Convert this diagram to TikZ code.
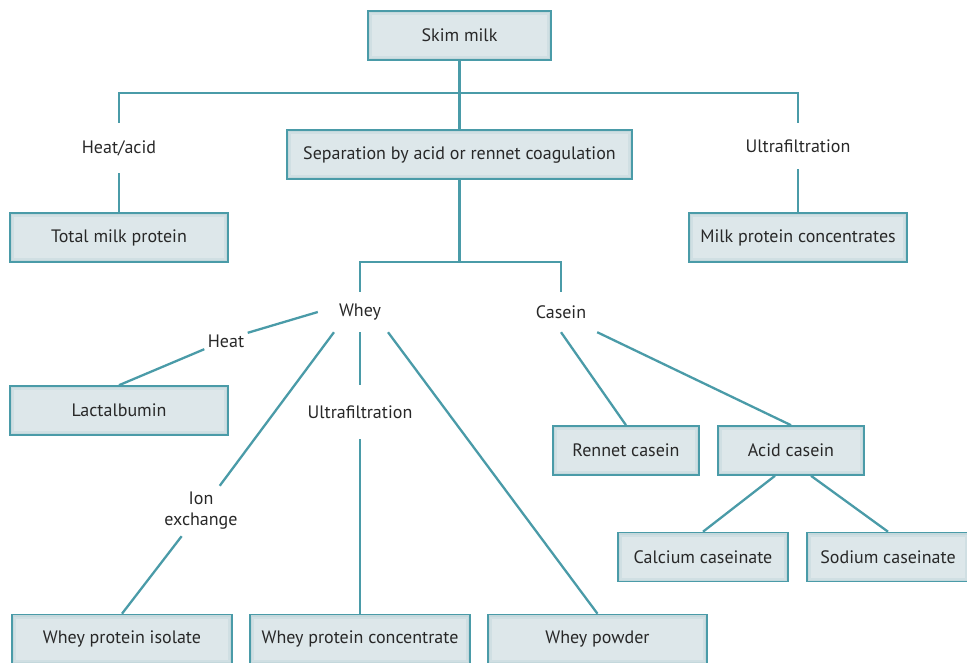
\documentclass[tikz,border=0pt]{standalone}
\usepackage{fontspec}
\setmainfont{PT Sans}
\usetikzlibrary{positioning}
\definecolor{milkline}{RGB}{74,155,168}
\definecolor{boxfill}{RGB}{221,231,234}
\definecolor{boxglow}{RGB}{178,206,211}
\definecolor{textgray}{RGB}{40,40,40}
\tikzset{
  prodbox/.style={draw=milkline,line width=1.6pt,fill=boxfill,minimum height=49pt,
    inner sep=0pt,font=\fontsize{18}{21}\selectfont,text=textgray,
    path picture={
      \draw[boxglow,line width=8pt,opacity=0.3]
        (path picture bounding box.south west) rectangle (path picture bounding box.north east);
      \draw[boxglow,line width=4pt,opacity=0.4]
        (path picture bounding box.south west) rectangle (path picture bounding box.north east);}},
  steplbl/.style={inner sep=0pt,font=\fontsize{18}{21}\selectfont,text=textgray},
  link/.style={draw=milkline,line width=2.3pt}
}
\begin{document}
\begin{tikzpicture}[x=1pt,y=-1pt]
  \useasboundingbox (0,0) rectangle (967,662);
  % product boxes
  \node[prodbox,minimum width=183pt] (skim) at (459.5,35.5) {Skim milk};
  \node[prodbox,minimum width=345pt] (sep) at (459.5,154.5) {Separation by acid or rennet coagulation};
  \node[prodbox,minimum width=218pt] (tmp) at (119,237.5) {Total milk protein};
  \node[prodbox,minimum width=218pt] (mpc) at (798,237.5) {Milk protein concentrates};
  \node[prodbox,minimum width=218pt] (lact) at (119,410.5) {Lactalbumin};
  \node[prodbox,minimum width=146pt] (rennet) at (626,450.5) {Rennet casein};
  \node[prodbox,minimum width=146pt] (acid) at (791,450.5) {Acid casein};
  \node[prodbox,minimum width=170pt] (calcium) at (703,557) {Calcium caseinate};
  \node[prodbox,minimum width=162pt] (sodium) at (888,557) {Sodium caseinate};
  \node[prodbox,minimum width=220pt] (wpi) at (122,639) {Whey protein isolate};
  \node[prodbox,minimum width=220pt] (wpc) at (360,639) {Whey protein concentrate};
  \node[prodbox,minimum width=219pt] (powder) at (597.5,639) {Whey powder};
  % process labels
  \node[steplbl,minimum height=50pt] (heatacid) at (119,148) {Heat/acid};
  \node[steplbl,minimum height=46pt] (ufright) at (798,146) {Ultrafiltration};
  \node[steplbl,minimum width=84pt,minimum height=40pt] (whey) at (360,312) {Whey};
  \node[steplbl,minimum width=72pt,minimum height=40pt] (casein) at (561,312) {Casein};
  \node[steplbl,minimum width=43pt,minimum height=16pt] (heat) at (226,341) {Heat};
  \node[steplbl,minimum height=54pt] (ufmid) at (360,412) {Ultrafiltration};
  \node[steplbl,minimum width=74pt,minimum height=50pt,align=center] (ion) at (201,511) {Ion\\exchange};
  % connectors
  \coordinate (topsplit) at (459.5,93);
  \coordinate (midsplit) at (459.5,262);
  \draw[link] (skim) -- (sep);
  \draw[link] (heatacid.north) |- (topsplit) -| (ufright.north);
  \draw[link] (heatacid) -- (tmp);
  \draw[link] (ufright) -- (mpc);
  \draw[link] (sep) -- (midsplit);
  \draw[link] (whey.north) |- (midsplit) -| (casein.north);
  \draw[link] (whey.west) -- (heat.north east);
  \draw[link] (heat.south west) -- (lact.north);
  \draw[link] ([xshift=-26pt]whey.south) -- (ion);
  \draw[link] (ion) -- (wpi.north);
  \draw[link] (whey) -- (ufmid);
  \draw[link] (ufmid) -- (wpc);
  \draw[link] ([xshift=28pt]whey.south) -- (powder.north);
  \draw[link] (casein.south) -- (rennet.north);
  \draw[link] (casein.south east) -- (acid.north);
  \draw[link] ([xshift=-16pt]acid.south) -- (calcium.north);
  \draw[link] ([xshift=20pt]acid.south) -- (sodium.north);
\end{tikzpicture}
\end{document}
